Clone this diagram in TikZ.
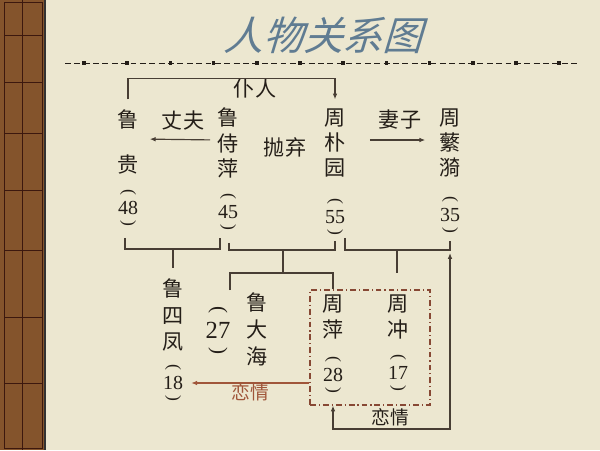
\documentclass[tikz,border=0pt]{standalone}
\usepackage{fontspec}
\setmainfont{Liberation Serif}
\newfontfamily\cjk{Noto Sans CJK SC}
\newfontfamily\titlecjk[FakeSlant=0.3]{Noto Sans CJK SC}
\usetikzlibrary{arrows.meta,calc}

\definecolor{paper}{RGB}{236,231,208}
\definecolor{ink}{RGB}{36,30,24}
\definecolor{wire}{RGB}{72,62,52}
\definecolor{lovered}{RGB}{160,86,58}
\definecolor{boxred}{RGB}{135,72,52}
\definecolor{titleblue}{RGB}{96,124,146}
\definecolor{stripA}{RGB}{132,84,44}
\definecolor{stripB}{RGB}{78,38,34}
\definecolor{stripline}{RGB}{60,24,14}

\tikzset{
  person/.style={font=\cjk\fontsize{18}{21.5}\selectfont, align=center, inner sep=0pt, text=ink},
  tag/.style={font=\cjk\fontsize{18}{20}\selectfont, inner sep=0pt, text=ink},
  age/.style={font=\fontsize{17}{19}\selectfont, inner sep=0pt, text=ink},
  paren/.style={font=\fontsize{15}{17}\selectfont, inner sep=0pt, rotate=-90, text=ink},
  link/.style={draw=wire, line width=1pt},
  arrowlink/.style={link, -{Latex[length=5pt,width=4pt]}},
  lovelink/.style={draw=lovered, line width=1pt, -{Latex[length=5pt,width=4pt]}},
  fambox/.style={draw=boxred, line width=1pt, dash pattern=on 5pt off 2.5pt on 1pt off 2.5pt, inner sep=0pt}
}

\begin{document}
\begin{tikzpicture}[x=0.03cm, y=-0.03cm]
  \useasboundingbox (0,0) rectangle (600,450);
  \fill[paper] (0,0) rectangle (600,450);

  % left strip
  \fill[stripA] (0,0) rectangle (45,450);
  \shade[top color=stripA, middle color=stripB, bottom color=stripA] (0,40) rectangle (45,260);
  \shade[top color=stripA, middle color=stripB, bottom color=stripA] (0,300) rectangle (45,410);
  \draw[stripline, line width=0.4pt] (22,0) -- (22,450);
  \foreach \yy in {35,82,133,190,250,317,383}
    \draw[stripline, line width=0.4pt] (4,\yy) -- (42,\yy);
  \draw[stripline, line width=0.8pt] (4,2) rectangle (42,448);
  \draw[black!80, line width=1.5pt] (45,0) -- (45,450);

  % title
  \node[font=\titlecjk\fontsize{34}{36}\selectfont, text=titleblue, inner sep=0pt] (title) at (323,35) {人物关系图};
  \draw[ink, line width=0.6pt, dash pattern=on 5pt off 3pt] (65,63) -- (578,63);
  \foreach \i in {0,...,11}
    \fill[ink] ({84+43.2*\i-1.8},61.2) rectangle ++(3.6,3.6);

  % people
  \node[person] (lugui) at (128,142) {鲁\\[0.6cm]贵};
  \node[person] (lsp) at (228,143) {鲁\\侍\\萍};
  \node[person] (zpy) at (335,143) {周\\朴\\园};
  \node[person] (zfy) at (450,143) {周\\蘩\\漪};
  \node[person, font=\cjk\fontsize{18}{23}\selectfont] (lsf) at (173,315) {鲁\\四\\凤};
  \node[person, font=\cjk\fontsize{18}{23}\selectfont] (ldh) at (257,329) {鲁\\大\\海};
  \node[person] (zping) at (333,317) {周\\萍};
  \node[person] (zchong) at (398,317) {周\\冲};

  % ages
  \foreach \n/\x/\y in {48/128/208, 45/228/212, 55/335/217, 35/450/215, 18/173/383, 28/333/375, 17/398/373} {
    \node[age] (a\n) at (\x,\y) {\n};
    \node[paren] (p\n) at (\x,\y-16) {(};
    \node[paren] (q\n) at (\x,\y+15) {)};
  }
  \node[age, font=\fontsize{21}{23}\selectfont] (a27) at (218,330) {27};
  \node[paren, font=\fontsize{18}{20}\selectfont] (p27) at (218,310) {(};
  \node[paren, font=\fontsize{18}{20}\selectfont] (q27) at (218,351) {)};

  % labels
  \node[tag] (puren) at (255,89) {仆人};
  \node[tag] (husband) at (183,120) {丈夫};
  \node[tag] (desert) at (285,147) {抛弃};
  \node[tag] (wife) at (400,120) {妻子};
  \node[tag, font=\cjk\fontsize{16}{18}\selectfont, text=lovered] (love1) at (250,392) {恋情};
  \node[tag, font=\cjk\fontsize{16}{18}\selectfont] (love2) at (390,417) {恋情};

  \node[fambox, minimum width=3.6cm, minimum height=3.45cm] (zbox) at (370,347.5) {};

  % relations
  \draw[arrowlink, shorten >=0.27cm] (lugui.north) ++(0,-10) |- ($(puren.north)+(0,-1)$) -| (zpy.north);
  \draw[arrowlink, shorten <=0.21cm, shorten >=0.33cm] ([yshift=0.09cm]lsp.west) -- ([yshift=0.09cm]lugui.east);
  \draw[arrowlink, shorten <=0.72cm, shorten >=0.42cm] ([yshift=0.09cm]zpy.east) -- ([yshift=0.09cm]zfy.west);

  % families
  \coordinate (c1) at (173,249);
  \coordinate (c2) at (283,250);
  \coordinate (c3) at (397,250);
  \coordinate (j2) at (283,273);
  \draw[link] ($(a48.south)+(-3,23)$) |- (c1) -| ($(a45.south)+(-8,19)$);
  \draw[link] ($(a45.south)+(1,24)$) |- (c2) -| ($(a55.south)+(0,17)$);
  \draw[link] ($(a55.south)+(10,14)$) |- (c3) -| ($(a35.south)+(0,19)$);
  \draw[link, shorten >=0.3cm] (c1) -- (lsf.north);
  \draw[link] (c2) -- (j2);
  \draw[link] ($(ldh.north)+(-27,-2)$) |- (j2) -| (zping |- zbox.north);
  \draw[link] (c3) -- (c3 |- j2);

  % love
  \draw[lovelink, shorten >=0.24cm] (zbox.west |- a18) -- (a18.east);
  \draw[link, {Latex[length=5pt,width=4pt]}-{Latex[length=5pt,width=4pt]}, shorten >=0.09cm]
    (zping |- zbox.south) |- ($(love2.south)+(0,3)$) -| (a35 |- c3);
\end{tikzpicture}
\end{document}
